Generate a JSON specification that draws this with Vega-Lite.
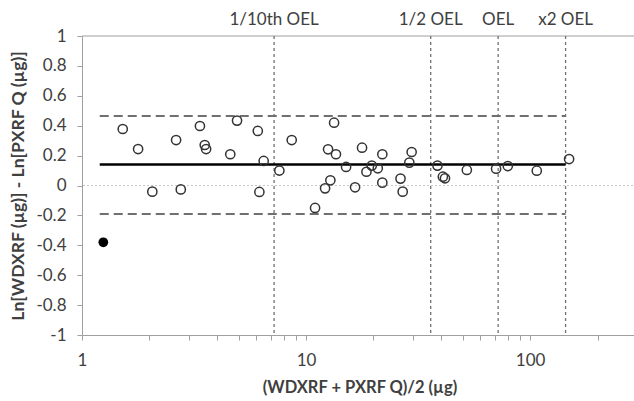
{
  "$schema": "https://vega.github.io/schema/vega-lite/v6.json",
  "autosize": "none",
  "width": 555,
  "height": 299,
  "padding": {"left": 82, "top": 36, "right": 0, "bottom": 66},
  "background": "white",
  "config": {
    "view": {"stroke": null},
    "font": "Lato",
    "axis": {"labelFont": "Lato", "titleFont": "Lato", "labelColor": "#404040", "titleColor": "#404040", "domainColor": "#a0a0a0", "tickColor": "#a0a0a0", "grid": false, "labelFontSize": 17, "titleFontSize": 16.5, "titleFontWeight": "bold", "labelOverlap": false}
  },
  "datasets": {
    "points": [
      {"x": 1.52, "y": 0.378}, {"x": 1.78, "y": 0.244}, {"x": 2.06, "y": -0.041}, {"x": 2.63, "y": 0.304},
      {"x": 2.76, "y": -0.026}, {"x": 3.36, "y": 0.398}, {"x": 3.53, "y": 0.271}, {"x": 3.58, "y": 0.244},
      {"x": 4.59, "y": 0.209}, {"x": 4.92, "y": 0.434}, {"x": 6.09, "y": 0.365}, {"x": 6.19, "y": -0.043},
      {"x": 6.47, "y": 0.164}, {"x": 7.6, "y": 0.1}, {"x": 8.63, "y": 0.304}, {"x": 10.97, "y": -0.15},
      {"x": 12.16, "y": -0.019}, {"x": 12.54, "y": 0.242}, {"x": 12.84, "y": 0.035}, {"x": 13.34, "y": 0.42},
      {"x": 13.6, "y": 0.209}, {"x": 15.09, "y": 0.124}, {"x": 16.55, "y": -0.012}, {"x": 17.78, "y": 0.253},
      {"x": 18.6, "y": 0.092}, {"x": 19.65, "y": 0.133}, {"x": 20.9, "y": 0.115}, {"x": 21.9, "y": 0.209},
      {"x": 21.9, "y": 0.019}, {"x": 26.4, "y": 0.046}, {"x": 27.0, "y": -0.041}, {"x": 28.9, "y": 0.153},
      {"x": 29.6, "y": 0.224}, {"x": 38.6, "y": 0.133}, {"x": 40.8, "y": 0.059}, {"x": 41.7, "y": 0.048},
      {"x": 52.2, "y": 0.104}, {"x": 70.5, "y": 0.112}, {"x": 79.5, "y": 0.13}, {"x": 107.1, "y": 0.099},
      {"x": 149.3, "y": 0.177}
    ],
    "outlier": [{"x": 1.245, "y": -0.38}],
    "oel": [
      {"x": 7.2, "label": "1/10th OEL", "top": 1},
      {"x": 36, "label": "1/2 OEL", "top": 1},
      {"x": 72, "label": "OEL", "top": 1},
      {"x": 144, "label": "x2 OEL", "top": 1}
    ],
    "limits": [
      {"x1": 1.2, "x2": 144, "y": 0.465, "kind": "limit"},
      {"x1": 1.2, "x2": 144, "y": -0.19, "kind": "limit"}
    ],
    "mean": [{"x1": 1.2, "x2": 144, "y": 0.14}],
    "hlines": [{"y": 0}],
    "toplines": [{"y": 1}]
  },
  "layer": [
    {
      "data": {"name": "hlines"},
      "mark": {"type": "rule", "color": "#c8c8c8", "strokeWidth": 1.2, "strokeDash": [2, 2]},
      "encoding": {"y": {"field": "y", "type": "quantitative", "scale": {"domain": [-1, 1]}}}
    },
    {
      "data": {"name": "toplines"},
      "mark": {"type": "rule", "color": "#a0a0a0", "strokeWidth": 1},
      "encoding": {"y": {"field": "y", "type": "quantitative"}}
    },
    {
      "data": {"name": "oel"},
      "mark": {"type": "rule", "color": "#707070", "strokeWidth": 1.3, "strokeDash": [3, 3]},
      "encoding": {"x": {"field": "x", "type": "quantitative"}}
    },
    {
      "data": {"name": "oel"},
      "mark": {"type": "text", "fontSize": 17, "color": "#404040", "font": "Lato", "baseline": "middle", "dy": -16},
      "encoding": {
        "x": {"field": "x", "type": "quantitative"},
        "y": {"field": "top", "type": "quantitative"},
        "text": {"field": "label"}
      }
    },
    {
      "data": {"name": "limits"},
      "mark": {"type": "rule", "color": "#707070", "strokeWidth": 2, "strokeDash": [9, 5]},
      "encoding": {
        "x": {"field": "x1", "type": "quantitative"},
        "x2": {"field": "x2"},
        "y": {"field": "y", "type": "quantitative"}
      }
    },
    {
      "data": {"name": "mean"},
      "mark": {"type": "rule", "color": "#000000", "strokeWidth": 2.4},
      "encoding": {
        "x": {"field": "x1", "type": "quantitative"},
        "x2": {"field": "x2"},
        "y": {"field": "y", "type": "quantitative"}
      }
    },
    {
      "data": {"name": "points"},
      "mark": {"type": "point", "filled": false, "shape": "circle", "size": 85, "stroke": "#333333", "strokeWidth": 1.5, "opacity": 1},
      "encoding": {
        "x": {
          "field": "x", "type": "quantitative",
          "scale": {"type": "log", "domain": [1, 300], "nice": false},
          "axis": {
            "title": "(WDXRF + PXRF Q)/2 (µg)",
            "values": [1, 2, 3, 4, 5, 6, 7, 8, 9, 10, 20, 30, 40, 50, 60, 70, 80, 90, 100, 200],
            "tickCount": 30,
            "labelExpr": "(datum.value == 1 || datum.value == 10 || datum.value == 100) ? datum.label : ''",
            "tickSize": 5,
            "labelPadding": 12,
            "titlePadding": 11,
            "labelFlush": false
          }
        },
        "y": {
          "field": "y", "type": "quantitative",
          "scale": {"domain": [-1, 1], "nice": false},
          "axis": {
            "title": "Ln[WDXRF (µg)] - Ln[PXRF Q (µg)]",
            "titleFontSize": 17.5,
            "values": [-1, -0.8, -0.6, -0.4, -0.2, 0, 0.2, 0.4, 0.6, 0.8, 1],
            "tickCount": 20,
            "labelExpr": "'' + datum.value",
            "tickSize": 5,
            "labelPadding": 11,
            "titlePadding": 8
          }
        }
      }
    },
    {
      "data": {"name": "outlier"},
      "mark": {"type": "point", "filled": true, "shape": "circle", "size": 95, "color": "#000000", "opacity": 1},
      "encoding": {
        "x": {"field": "x", "type": "quantitative"},
        "y": {"field": "y", "type": "quantitative"}
      }
    }
  ]
}
